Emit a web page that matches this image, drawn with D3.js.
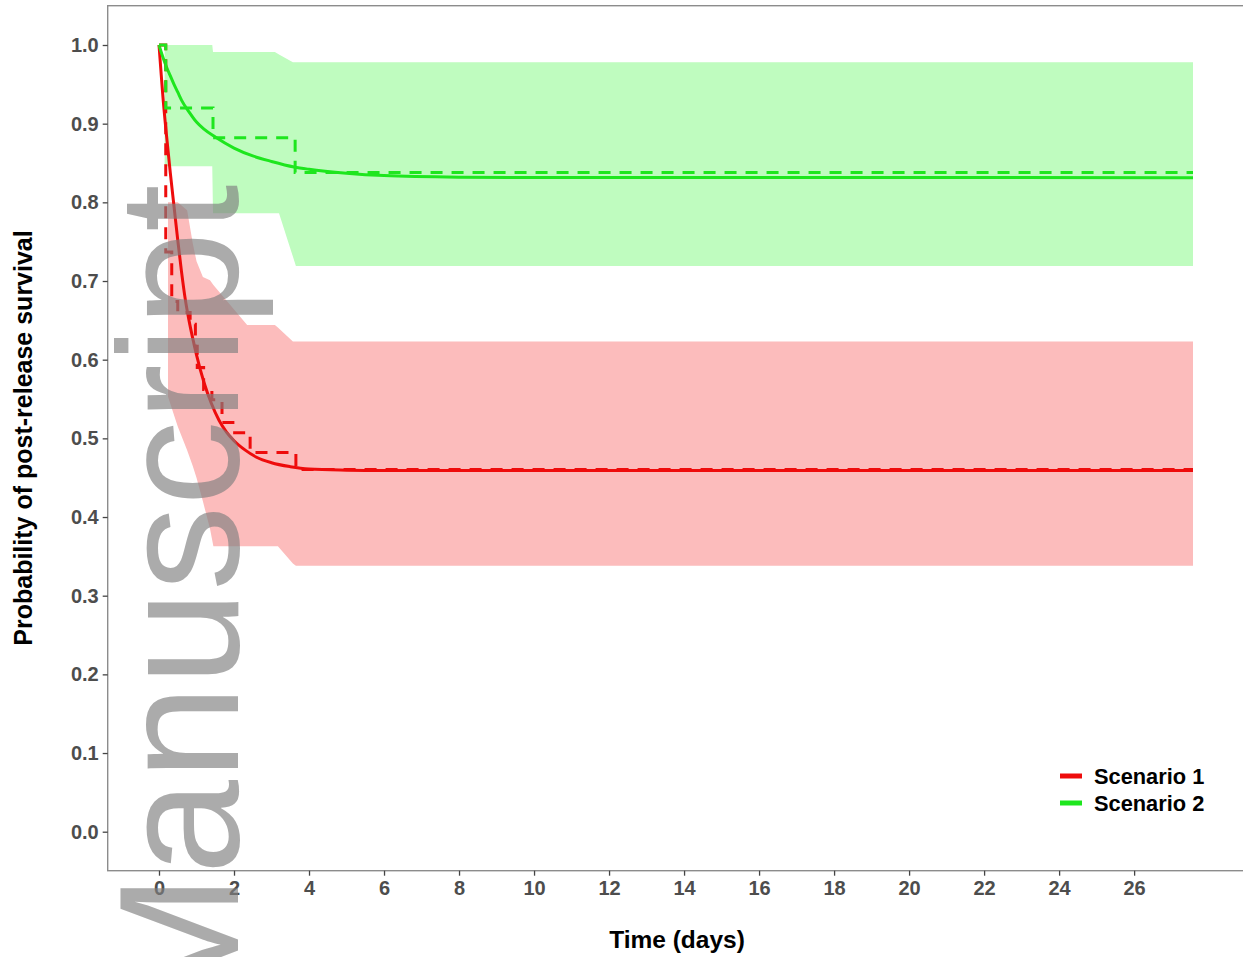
<!DOCTYPE html>
<html>
<head>
<meta charset="utf-8">
<script src="https://cdn.jsdelivr.net/npm/d3@7"></script>
<style>
  html, body { margin: 0; padding: 0; background: #fff; }
  svg { display: block; }
  text { font-family: "Liberation Sans", Arial, Helvetica, sans-serif; }
</style>
</head>
<body>
<svg id="chart" width="1243" height="957"></svg>
<script>
// ---------------- data ----------------
const seriesNames = ["Scenario 1", "Scenario 2"];
const xTickValues = [0, 2, 4, 6, 8, 10, 12, 14, 16, 18, 20, 22, 24, 26];
const yTickValues = [0.0, 0.1, 0.2, 0.3, 0.4, 0.5, 0.6, 0.7, 0.8, 0.9, 1.0];
const xTitle = "Time (days)";
const yTitle = "Probability of post-release survival";

// Scenario 1 (red): fitted survival curve
const s1FitTime = [0, 0.05, 0.1, 0.2, 0.3, 0.4, 0.5, 0.6, 0.7, 0.8, 0.9, 1.0, 1.2, 1.4, 1.6, 1.8, 2.0, 2.3, 2.6, 3.0, 3.5, 4.0, 5.0, 6.0, 27.57];
const s1FitSurv = [1.0, 0.968, 0.937, 0.885, 0.838, 0.795, 0.752, 0.712, 0.677, 0.650, 0.627, 0.606, 0.571, 0.544, 0.523, 0.508, 0.497, 0.485, 0.476, 0.469, 0.464, 0.461, 0.4595, 0.459, 0.459];
// Scenario 1 Kaplan-Meier (dashed step)
const s1KMTime = [0, 0.18, 0.34, 0.5, 0.83, 0.97, 1.02, 1.19, 1.41, 1.68, 1.97, 2.43, 3.65, 27.57];
const s1KMSurv = [1.0, 0.737, 0.674, 0.66, 0.645, 0.617, 0.59, 0.562, 0.549, 0.52, 0.507, 0.482, 0.4605, 0.4605];
// Scenario 1 confidence band
const s1CiTime  = [0.24, 0.5, 0.75, 0.9, 1.0, 1.17, 1.36, 1.45, 2.35, 3.09, 3.17, 3.57, 3.65, 27.57];
const s1CiUpper = [0.80, 0.80, 0.79, 0.748, 0.725, 0.705, 0.701, 0.695, 0.644, 0.644, 0.641, 0.623, 0.623, 0.623];
const s1CiLower = [0.553, 0.515, 0.485, 0.465, 0.45, 0.42, 0.385, 0.363, 0.363, 0.363, 0.363, 0.341, 0.338, 0.338];

// Scenario 2 (green): fitted survival curve
const s2FitTime = [0, 0.1, 0.2, 0.3, 0.4, 0.5, 0.6, 0.8, 1.0, 1.2, 1.5, 2.0, 2.5, 3.0, 3.6, 4.0, 5.0, 6.0, 8.0, 10, 27.57];
const s2FitSurv = [1.0, 0.985, 0.972, 0.961, 0.950, 0.940, 0.930, 0.915, 0.902, 0.893, 0.883, 0.869, 0.859, 0.852, 0.845, 0.842, 0.837, 0.834, 0.832, 0.8315, 0.8314];
// Scenario 2 Kaplan-Meier
const s2KMTime = [0, 0.18, 1.44, 3.63, 27.57];
const s2KMSurv = [1.0, 0.92, 0.882, 0.838, 0.838];
// Scenario 2 confidence band
const s2CiTime  = [0.15, 1.42, 1.44, 3.09, 3.2, 3.57, 3.65, 27.57];
const s2CiUpper = [1.0, 1.0, 0.991, 0.991, 0.988, 0.978, 0.978, 0.978];
const s2CiLower = [0.846, 0.846, 0.786, 0.786, 0.786, 0.731, 0.719, 0.719];

// ---------------- drawing ----------------
const colors = { s1: "#ee0c0c", s2: "#1ee61e" };
const fills  = { s1: "#fcbcbc", s2: "#bffcbf" };

const svg = d3.select("#chart");
const x = d3.scaleLinear().domain([0, 27.57]).range([159, 1193]);
const y = d3.scaleLinear().domain([0, 1]).range([831.7, 45]);

const panel = { left: 107.7, top: 5.7, right: 1250, bottom: 870.7 };

const zip = (a, b) => a.map((v, i) => [v, b[i]]);
const zip3 = (a, b, c) => a.map((v, i) => [v, b[i], c[i]]);

// ribbons
const area = d3.area().x(d => x(d[0])).y0(d => y(d[1])).y1(d => y(d[2])).curve(d3.curveLinear);
svg.append("path").datum(zip3(s1CiTime, s1CiLower, s1CiUpper)).attr("d", area).attr("fill", fills.s1);
svg.append("path").datum(zip3(s2CiTime, s2CiLower, s2CiUpper)).attr("d", area).attr("fill", fills.s2);

// fitted curves
const smooth = d3.line().x(d => x(d[0])).y(d => y(d[1])).curve(d3.curveMonotoneX);
svg.append("path").datum(zip(s1FitTime, s1FitSurv)).attr("d", smooth)
  .attr("fill", "none").attr("stroke", colors.s1).attr("stroke-width", 3);
svg.append("path").datum(zip(s2FitTime, s2FitSurv)).attr("d", smooth)
  .attr("fill", "none").attr("stroke", colors.s2).attr("stroke-width", 3);

// KM steps
const step = d3.line().x(d => x(d[0])).y(d => y(d[1])).curve(d3.curveStepAfter);
svg.append("path").datum(zip(s1KMTime, s1KMSurv)).attr("d", step)
  .attr("fill", "none").attr("stroke", colors.s1).attr("stroke-width", 3).attr("stroke-dasharray", "12,9");
svg.append("path").datum(zip(s2KMTime, s2KMSurv)).attr("d", step)
  .attr("fill", "none").attr("stroke", colors.s2).attr("stroke-width", 3).attr("stroke-dasharray", "12,9");

// panel border
svg.append("rect")
  .attr("x", panel.left).attr("y", panel.top)
  .attr("width", panel.right - panel.left).attr("height", panel.bottom - panel.top)
  .attr("fill", "none").attr("stroke", "#8c8c8c").attr("stroke-width", 1.4);

// axes
const xAxis = d3.axisBottom(x).tickValues(xTickValues).tickFormat(d3.format("d")).tickSize(5).tickPadding(4);
const gx = svg.append("g").attr("transform", `translate(0,${panel.bottom})`).call(xAxis);
gx.select(".domain").remove();
gx.selectAll(".tick line").attr("stroke", "#444").attr("stroke-width", 1.3);
gx.selectAll(".tick text").attr("fill", "#4d4d4d").attr("font-size", 20).attr("font-weight", "bold")
  .attr("font-family", "'Liberation Sans', Arial, sans-serif").attr("dy", "0.75em");

const yAxis = d3.axisLeft(y).tickValues(yTickValues).tickFormat(d3.format(".1f")).tickSize(5).tickPadding(4);
const gy = svg.append("g").attr("transform", `translate(${panel.left},0)`).call(yAxis);
gy.select(".domain").remove();
gy.selectAll(".tick line").attr("stroke", "#444").attr("stroke-width", 1.3);
gy.selectAll(".tick text").attr("fill", "#4d4d4d").attr("font-size", 20).attr("font-weight", "bold")
  .attr("font-family", "'Liberation Sans', Arial, sans-serif");

// titles
svg.append("text").attr("x", 677).attr("y", 948).attr("text-anchor", "middle")
  .attr("font-size", 24.5).attr("font-weight", "bold").attr("fill", "#000").text(xTitle);
svg.append("text").attr("transform", "translate(32,438) rotate(-90)").attr("text-anchor", "middle")
  .attr("font-size", 25).attr("font-weight", "bold").attr("fill", "#000").text(yTitle);

// legend
const legendKeys = [colors.s1, colors.s2];
seriesNames.forEach((name, i) => {
  const ly = 776 + i * 27;
  svg.append("line").attr("x1", 1060).attr("x2", 1082).attr("y1", ly).attr("y2", ly)
    .attr("stroke", legendKeys[i]).attr("stroke-width", 5);
  svg.append("text").attr("x", 1094).attr("y", ly + 7.5)
    .attr("font-size", 21.8).attr("font-weight", "bold").attr("fill", "#000").text(name);
});

// watermark (partly outside the picture, as in the reference)
svg.append("text").attr("transform", "translate(238,1016) rotate(-90)")
  .attr("font-size", 170).attr("fill", "#808080").attr("fill-opacity", 0.66)
  .attr("font-family", "'Liberation Sans', Arial, sans-serif")
  .text("Manuscript");
</script>
</body>
</html>
